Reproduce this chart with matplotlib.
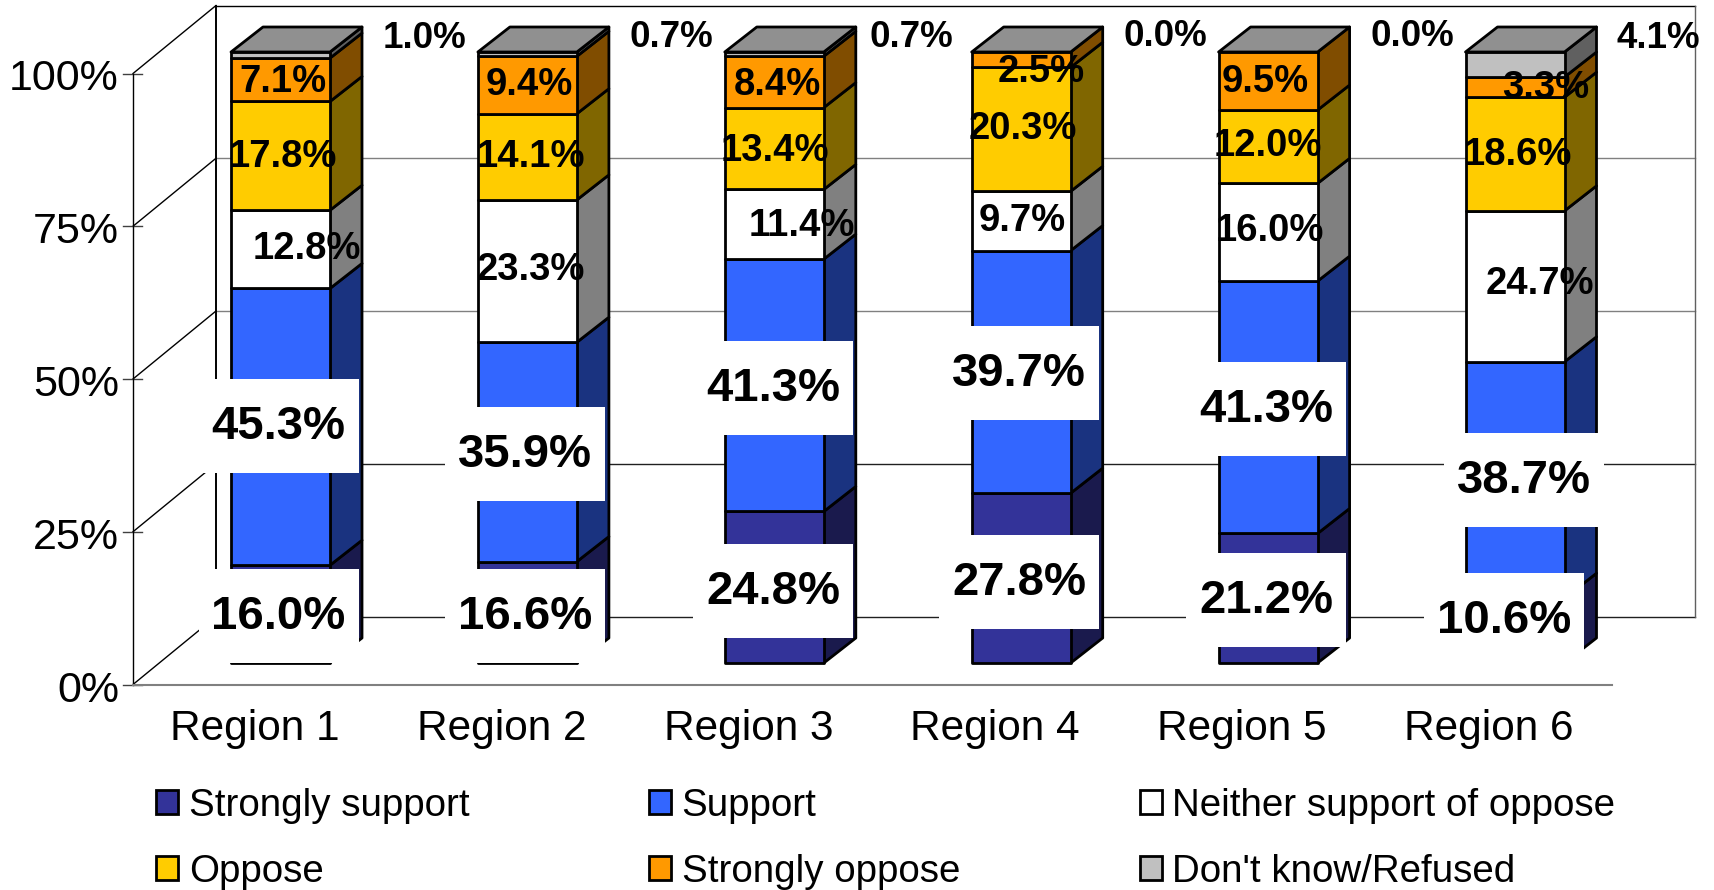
import matplotlib
matplotlib.use("Agg")
import matplotlib.pyplot as plt
from matplotlib.patches import Polygon, Rectangle, Patch

# ---------- data ----------
regions = ["Region 1", "Region 2", "Region 3", "Region 4", "Region 5", "Region 6"]
series_names = ["Strongly support", "Support", "Neither support of oppose",
                "Oppose", "Strongly oppose", "Don't know/Refused"]
strongly_support = [16.0, 16.6, 24.8, 27.8, 21.2, 10.6]
support = [45.3, 35.9, 41.3, 39.7, 41.3, 38.7]
neither = [12.8, 23.3, 11.4, 9.7, 16.0, 24.7]
oppose = [17.8, 14.1, 13.4, 20.3, 12.0, 18.6]
strongly_oppose = [7.1, 9.4, 8.4, 2.5, 9.5, 3.3]
dont_know = [1.0, 0.7, 0.7, 0.0, 0.0, 4.1]
y_ticks = [0, 25, 50, 75, 100]

series = [strongly_support, support, neither, oppose, strongly_oppose, dont_know]

# ---------- style ----------
front_colors = ["#333399", "#3366FF", "#FFFFFF", "#FFCC00", "#FF9900", "#C0C0C0"]
side_colors = ["#1A1A4D", "#1A3380", "#808080", "#806600", "#804D00", "#606060"]
top_color = "#909090"

# label nudges in pixels (x right, y down) relative to the centre of the segment
label_dx = [[-2, -2, -1, -2, -2, -11],
            [-2, -2, -1, -2, -2, 9],
            [26, 3, 28, 1, 2, 25],
            [2, 3, 1, 2, 0, 3],
            [2, 2, 3, 20, -3, 31],
            [144, 144, 137, 144, 144, 143]]
label_dy = [[0, 2, 2, 2, 0, -13],
            [-3, 0, 1, -1, 0, -2],
            [-3, -4, -1, -3, -4, -5],
            [-2, -3, -1, -3, -4, -2],
            [-1, -3, 0, 9, -2, -2],
            [-20, -20, -20, -18, -18, -29]]
TEXT_SHIFT = 3  # pixels from the layout centre down to the glyph centre

plt.rcParams["font.family"] = ["Liberation Sans", "DejaVu Sans"]

W, H = 1715, 890
fig = plt.figure(figsize=(W / 100, H / 100), dpi=100, facecolor="white")
ax = fig.add_axes([0, 0, 1, 1])

# Category and percent scales: one category step and one percent in pixels
STEP = 246.9
PCT = 6.11
X0 = 280.5     # pixel x of the first bar's centre
Y0 = 663.0     # pixel y of the bars' 0 %
ax.set_xlim((0 - X0) / STEP, (W - X0) / STEP)
ax.set_ylim((Y0 - H) / PCT, Y0 / PCT)
ax.axis("off")


def ddx(px):
    return px / STEP


def ddy(px):
    """pixels downward -> percent units"""
    return -px / PCT


def wall_y(p):
    """percent on the front of the left wall, in bar-percent units"""
    return p + ddy(21.5)


def pix_x(px):
    return (px - X0) / STEP


def pix_y(py):
    return (Y0 - py) / PCT


# ---------- walls ----------
WALL_DX, WALL_DY = 83, 68
FRONT_X, BACK_X = pix_x(133), pix_x(133 + WALL_DX)
RIGHT_X, FLOOR_END = pix_x(1695), pix_x(1612)
grid_colors = {0: "#202020", 25: "#202020", 50: "#808080", 75: "#808080", 100: "#000000"}
for t in y_ticks:
    yf = wall_y(t)
    yb = yf + WALL_DY / PCT
    ax.plot([BACK_X, RIGHT_X], [yb, yb], color=grid_colors[t], lw=1.0, zorder=1)
    ax.plot([FRONT_X, BACK_X], [yf, yb], color="black", lw=1.0, zorder=1)
    ax.plot([pix_x(123), pix_x(142)], [yf, yf], color="#404040", lw=1.0, zorder=1)
    ax.text(pix_x(119), yf + ddy(6), f"{t}%", ha="right", va="center", fontsize=31, zorder=6)
ax.plot([FRONT_X, FRONT_X], [wall_y(0), wall_y(100)], color="black", lw=1.0, zorder=1)
ax.plot([BACK_X, BACK_X], [wall_y(0) + WALL_DY / PCT, wall_y(100) + WALL_DY / PCT],
        color="black", lw=1.4, zorder=1)
ax.plot([RIGHT_X, RIGHT_X], [wall_y(0) + WALL_DY / PCT, wall_y(100) + WALL_DY / PCT],
        color="#606060", lw=1.0, zorder=1)
ax.plot([FRONT_X, FLOOR_END], [wall_y(0), wall_y(0)], color="#808080", lw=1.5, zorder=2)

# ---------- bars ----------
BW = ddx(99) / 2
DX, DY = ddx(32), 25 / PCT
EDGE = dict(edgecolor="black", linewidth=2.0, joinstyle="round")
for i in range(len(regions)):
    base = 0.0
    for s, values in enumerate(series):
        v = values[i]
        if v > 0:
            l, r, b, t = i - BW, i + BW, base, base + v
            ax.add_patch(Polygon([(r, b), (r + DX, b + DY), (r + DX, t + DY), (r, t)],
                                 facecolor=side_colors[s], zorder=3, **EDGE))
            ax.add_patch(Rectangle((l, b), 2 * BW, v, facecolor=front_colors[s], zorder=3, **EDGE))
        base += v
    l, r = i - BW, i + BW
    ax.add_patch(Polygon([(l, base), (r, base), (r + DX, base + DY), (l + DX, base + DY)],
                         facecolor=top_color, zorder=3, **EDGE))

# ---------- value labels ----------
for i in range(len(regions)):
    base = 0.0
    for s, values in enumerate(series):
        v = values[i]
        xc = i + ddx(label_dx[s][i])
        yc = base + v / 2 + ddy(label_dy[s][i])
        if s < 2:
            bw, bh = ddx(160), 94 / PCT
            ax.add_patch(Rectangle((xc - bw / 2, yc + ddy(2) - bh / 2), bw, bh,
                                   facecolor="white", edgecolor="none", zorder=4 + 0.01 * (2 - s)))
        size = 34 if s < 2 else (26.5 if s == 5 else 27.5)
        ax.text(xc, yc + ddy(TEXT_SHIFT), f"{v:.1f}%", ha="center", va="center", fontweight="bold",
                fontsize=size, zorder=5)
        base += v

# ---------- category labels ----------
for i, name in enumerate(regions):
    ax.text(i + ddx(-26), pix_y(729), name, ha="center", va="center", fontsize=30.5, zorder=6)

# ---------- legend ----------
handles = [Patch(facecolor=front_colors[k], edgecolor="black", linewidth=2.0, label=series_names[k])
           for k in (0, 3, 1, 4, 2, 5)]
ax.legend(handles=handles, ncols=3, frameon=False, fontsize=27.7,
          loc="upper left", bbox_to_anchor=(156 / W, 1 - 788 / H), borderaxespad=0, borderpad=0,
          handlelength=0.58, handleheight=0.58, handletextpad=0.27, columnspacing=4.67,
          labelspacing=0.78)

fig.savefig("out.png", dpi=100)
